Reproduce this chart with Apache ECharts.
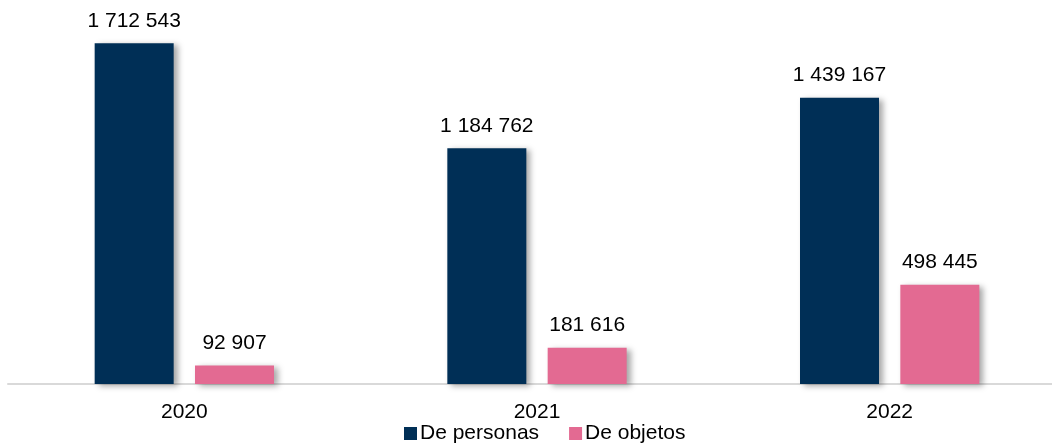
<!DOCTYPE html>
<html>
<head>
<meta charset="utf-8">
<script src="https://cdn.jsdelivr.net/npm/echarts@6/dist/echarts.min.js"></script>
<style>
  html, body { margin: 0; padding: 0; background: #fff; }
  #chart { width: 1052px; height: 443px; }
</style>
</head>
<body>
<div id="chart"></div>
<script>
const years = ['2020', '2021', '2022']
const personas = [1712543, 1184762, 1439167]
const objetos = [92907, 181616, 498445]

const fmt = (v) => String(v).replace(/\B(?=(\d{3})+(?!\d))/g, ' ')

const chart = echarts.init(document.getElementById('chart'))

const barShadow = {
  shadowBlur: 6,
  shadowOffsetX: 4,
  shadowOffsetY: 2,
  shadowColor: 'rgba(0,0,0,0.35)'
}

chart.setOption({
  backgroundColor: '#ffffff',
  textStyle: { fontFamily: 'Liberation Sans, Arial, sans-serif' },
  grid: {
    left: 8,
    right: -14,
    top: 6,
    bottom: 59,
    outerBoundsMode: 'none'
  },
  legend: {
    bottom: -6,
    left: 399,
    itemWidth: 13,
    itemHeight: 13,
    itemGap: 30,
    icon: 'rect',
    textStyle: { color: '#000', fontSize: 21, padding: [0, 0, 0, -2] },
    data: ['De personas', 'De objetos']
  },
  xAxis: {
    type: 'category',
    data: years,
    axisLine: { lineStyle: { color: '#d9d9d9', width: 2 } },
    axisTick: { show: false },
    axisLabel: { color: '#000', fontSize: 21, margin: 18 }
  },
  yAxis: {
    type: 'value',
    min: 0,
    max: 1900000,
    show: false,
    splitLine: { show: false }
  },
  series: [
    {
      name: 'De personas',
      type: 'bar',
      barWidth: 79,
      barGap: '27%',
      itemStyle: Object.assign({ color: '#002f56' }, barShadow),
      label: {
        show: true,
        position: 'top',
        distance: 12,
        color: '#000',
        fontSize: 21,
        formatter: (p) => fmt(p.value)
      },
      data: personas
    },
    {
      name: 'De objetos',
      type: 'bar',
      barWidth: 79,
      barGap: '27%',
      itemStyle: Object.assign({ color: '#e36a92' }, barShadow),
      label: {
        show: true,
        position: 'top',
        distance: 12,
        color: '#000',
        fontSize: 21,
        formatter: (p) => fmt(p.value)
      },
      data: objetos
    }
  ]
})
</script>
</body>
</html>
